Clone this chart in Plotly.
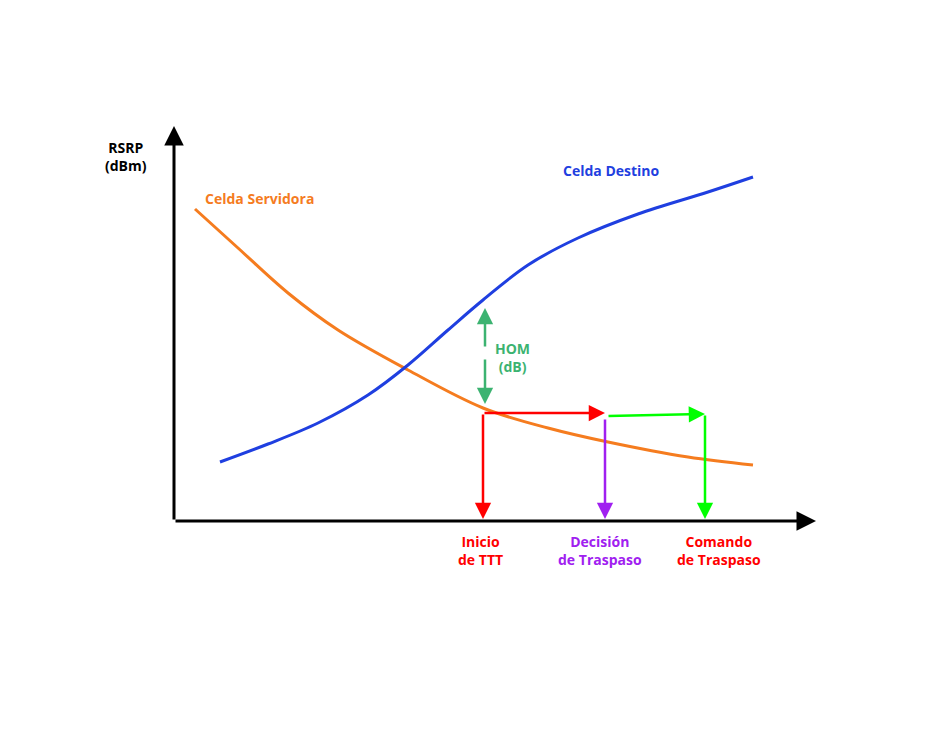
import plotly.graph_objects as go

# coordinates (pixel space of the 945x756 picture, y grows downward)
serv_x = [187, 230, 280, 330, 400, 475, 540, 600, 680, 745]
serv_y = [201, 240, 285, 322, 362, 400, 420, 434, 449, 457]
dest_x = [212, 260, 310, 360, 400, 440, 475, 520, 570, 630, 700, 745]
dest_y = [454, 436, 415, 387, 357, 322, 292, 257, 230, 206, 184, 169]

origin = (166, 513)
x_end, y_end = 808, 118

# arrows: (x0, y0, x1, y1, colour), head at (x1, y1)
arrows = [
    (475, 405, 475, 511, "#ff0000"),
    (475, 405, 597, 405, "#ff0000"),
    (597, 410, 597, 511, "#a020f0"),
    (599, 408, 697, 406, "#00ff00"),
    (697, 406, 697, 511, "#00ff00"),
    (477, 340, 477, 300, "#3cb371"),
    (477, 350, 477, 396, "#3cb371"),
]

labels = [
    ("RSRP<br>(dBm)", 118, 148, "#000000"),
    ("Celda Servidora", 251, 190, "#f57c1f"),
    ("Celda Destino", 603, 162, "#1f3fe0"),
    ("HOM<br>(dB)", 504, 349, "#3cb371"),
    ("Inicio<br>de TTT", 472, 542, "#ff0000"),
    ("Decisión<br>de Traspaso", 592, 542, "#a020f0"),
    ("Comando<br>de Traspaso", 711, 542, "#ff0000"),
]

fig = go.Figure()
fig.add_trace(go.Scatter(x=serv_x, y=serv_y, mode="lines", line=dict(color="#f57c1f", width=3, shape="spline")))
fig.add_trace(go.Scatter(x=dest_x, y=dest_y, mode="lines", line=dict(color="#1f3fe0", width=3, shape="spline")))

# axes
for x1, y1 in [(x_end, origin[1]), (origin[0], y_end)]:
    fig.add_annotation(x=x1, y=y1, ax=origin[0], ay=origin[1], xref="x", yref="y", axref="x", ayref="y",
                       showarrow=True, arrowhead=2, arrowsize=1.3, arrowwidth=3, arrowcolor="black", text="")

for x0, y0, x1, y1, c in arrows:
    fig.add_annotation(x=x1, y=y1, ax=x0, ay=y0, xref="x", yref="y", axref="x", ayref="y",
                       showarrow=True, arrowhead=2, arrowsize=1.3, arrowwidth=2.5, arrowcolor=c, text="")

for t, x, y, c in labels:
    fig.add_annotation(x=x, y=y, text="<b>" + t + "</b>", showarrow=False,
                       font=dict(color=c, size=14, family="Open Sans"), align="center")

fig.update_xaxes(range=[0, 945], visible=False)
fig.update_yaxes(range=[756, 0], visible=False)
fig.update_layout(width=945, height=756, margin=dict(l=0, r=0, t=0, b=0), showlegend=False,
                  plot_bgcolor="white", paper_bgcolor="white")
fig.write_html("out.html")
